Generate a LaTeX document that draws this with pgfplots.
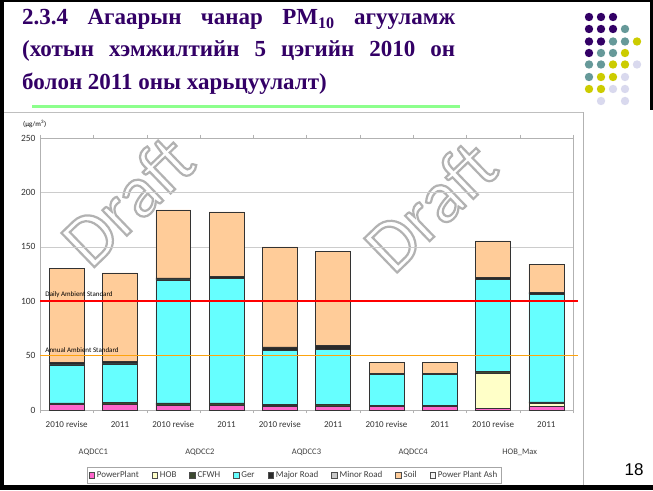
\documentclass[border=0pt]{standalone}
\usepackage{fontspec}
\setmainfont{Carlito}
\newfontfamily\titlefont{Liberation Serif}
\newfontfamily\arialfont{Liberation Sans}
\usepackage{pgfplots}
\usepackage{pgfplotstable}
\pgfplotsset{compat=1.18}
\definecolor{titlepurple}{HTML}{330066}
\definecolor{dotpurple}{HTML}{330066}
\definecolor{dotteal}{HTML}{669999}
\definecolor{dotyellow}{HTML}{CCCC00}
\definecolor{dotlav}{HTML}{D9D9EE}
\definecolor{cPP}{HTML}{FF66CC}
\definecolor{cHOB}{HTML}{FFFFC8}
\definecolor{cCFWH}{HTML}{3C4A30}
\definecolor{cGer}{HTML}{66FFFF}
\definecolor{cMajor}{HTML}{2A2A2A}
\definecolor{cMinor}{HTML}{C8C8C8}
\definecolor{cSoil}{HTML}{FFCC99}
\definecolor{cAsh}{HTML}{F2F2F2}
\definecolor{stdorange}{rgb}{1,0.64,0.05}
\newcommand{\outlinetext}[1]{\special{pdf:literal direct 1 Tr 2.2 w}#1\special{pdf:literal direct 0 Tr 1 w}}

\pgfplotstableread{
x  PP   HOB   CFWH  Ger    Major  Soil
0  5    0     1.5   35     2      86.5
1  5.5  0     1.5   35.5   2      81.5
2  4.5  0     2     113    2      62.5
3  4.5  0     2     114.5  2      59
4  3    1.5   1     49.5   3      92
5  3.5  0     1.5   51     3.5    86
6  3    0     1     28.5   1.5    9.5
7  3    0     1     28.5   1.5    9.5
8  1.5  32.5  1.5   84.5   2      33.5
9  3    3     1.5   99     1.5    26
}\pmdata

\pgfplotstableread{
x     daily
-0.5  100
9.6   100
}\stddata

\begin{document}
\begin{tikzpicture}[x=1pt,y=1pt]
\useasboundingbox (0,0) rectangle (653,490);
\fill[white] (0,0) rectangle (653,490);
% slide frame
\fill[black] (0,0) rectangle (4,490);
\fill[black] (0,487.5) rectangle (653,490);
\fill[black] (0,0) rectangle (653,5);
\fill[black] (650,380) rectangle (653,490);
\draw[gray!50] (4,378) -- (583,378);
\draw[gray!60] (583,5) -- (583,378);
% green underline
\draw[line width=3pt, green!45] (32,383) -- (460,383);
% title
\begin{scope}[every node/.style={anchor=base west, inner sep=0pt, text=titlepurple, font=\titlefont\bfseries\fontsize{23}{28}\selectfont}]
\node at (22,465) {\makebox[433pt][s]{2.3.4 Агаарын чанар PM\textsubscript{10} агууламж}};
\node at (22,433) {\makebox[433pt][s]{(хотын хэмжилтийн 5 цэгийн 2010 он}};
\node at (22,400) {болон 2011 оны харьцуулалт)};
\end{scope}
% decorative dots
\foreach \c/\x/\y in {dotpurple/589/17, dotpurple/601/17, dotpurple/613/17,
  dotpurple/589/29, dotpurple/601/29, dotpurple/613/29, dotteal/625/29,
  dotpurple/589/41.5, dotpurple/601/41.5, dotteal/613/41.5, dotteal/625/41.5, dotyellow/637/41.5,
  dotpurple/589/53, dotteal/601/53, dotteal/613/53, dotyellow/625/53,
  dotteal/589/64.5, dotteal/601/64.5, dotyellow/613/64.5, dotyellow/625/64.5, dotlav/637/64.5,
  dotteal/589/77, dotyellow/601/77, dotyellow/613/77, dotlav/625/77,
  dotyellow/589/89, dotyellow/601/89, dotlav/613/89, dotlav/625/89,
  dotlav/601/101, dotlav/625/101}
  {\fill[\c] (\x,490-\y) circle (4.2);}
% page number
\node[font=\arialfont\fontsize{17}{17}\selectfont] at (634,20) {18};

\begin{axis}[
  at={(40pt,80pt)}, anchor=south west,
  width=533pt, height=272pt, scale only axis,
  xmin=-0.5, xmax=9.5, ymin=0, ymax=250,
  axis lines=none, clip=false,
]
\node[rotate=44, anchor=base west, inner sep=0pt, text=black!30, font=\fontsize{74}{74}\selectfont] at (axis cs:0.45,128) {\outlinetext{Draft}};
\node[rotate=44, anchor=base west, inner sep=0pt, text=black!30, font=\fontsize{74}{74}\selectfont] at (axis cs:6.13,123) {\outlinetext{Draft}};
\end{axis}

\begin{axis}[
  at={(40pt,80pt)}, anchor=south west,
  width=533pt, height=272pt, scale only axis,
  ybar stacked, bar width=0.655,
  xmin=-0.5, xmax=9.5, ymin=0, ymax=250,
  ytick={0,50,...,250},
  xtick={0,...,9},
  xticklabels={2010 revise,2011,2010 revise,2011,2010 revise,2011,2010 revise,2011,2010 revise,2011},
  minor xtick={-0.5,0.5,...,9.5},
  major tick length=0pt, minor tick length=3pt,
  tick align=outside,
  tick style={gray!60},
  axis line style={gray!60},
  ymajorgrids, grid style={gray!40},
  /pgf/number format/assume math mode=true,
  tick label style={text=black!80},
  yticklabel style={font=\fontsize{9.5}{10}\selectfont, xshift=-1pt},
  xticklabel style={font=\fontsize{9}{10}\selectfont, yshift=-8pt},
  clip=false,
  legend style={at={(0.4765,-0.239)}, anchor=center, draw=gray!70,
    font=\fontsize{9}{9}\selectfont, text=black!75,
    /tikz/every even column/.append style={column sep=11pt},
    inner sep=2pt},
  legend columns=8,
  legend image code/.code={\draw[#1, draw=gray!60!black] (0cm,-0.1cm) rectangle (0.2cm,0.1cm);},
  every axis plot/.append style={draw=gray!40!black, line width=0.5pt},
]
\addplot[fill=cPP] table[x=x,y=PP]{\pmdata};
\addlegendentry{PowerPlant}
\addplot[fill=cHOB] table[x=x,y=HOB]{\pmdata};
\addlegendentry{HOB}
\addplot[fill=cCFWH] table[x=x,y=CFWH]{\pmdata};
\addlegendentry{CFWH}
\addplot[fill=cGer] table[x=x,y=Ger]{\pmdata};
\addlegendentry{Ger}
\addplot[fill=cMajor] table[x=x,y=Major]{\pmdata};
\addlegendentry{Major Road}
\addlegendimage{fill=cMinor}
\addlegendentry{Minor Road}
\addplot[fill=cSoil] table[x=x,y=Soil]{\pmdata};
\addlegendentry{Soil}
\addlegendimage{fill=cAsh}
\addlegendentry{Power Plant Ash}
\node[font=\fontsize{7}{7}\selectfont, anchor=south] at (rel axis cs:-0.01,1.025) {(μg/m\textsuperscript{3})};
\node[font=\fontsize{8.5}{9}\selectfont, text=black!75] at (axis cs:0.5,0) [yshift=-42pt] {AQDCC1};
\node[font=\fontsize{8.5}{9}\selectfont, text=black!75] at (axis cs:2.5,0) [yshift=-42pt] {AQDCC2};
\node[font=\fontsize{8.5}{9}\selectfont, text=black!75] at (axis cs:4.5,0) [yshift=-42pt] {AQDCC3};
\node[font=\fontsize{8.5}{9}\selectfont, text=black!75] at (axis cs:6.5,0) [yshift=-42pt] {AQDCC4};
\node[font=\fontsize{8.5}{9}\selectfont, text=black!75] at (axis cs:8.5,0) [yshift=-42pt] {HOB\_Max};
\end{axis}

\begin{axis}[
  at={(40pt,80pt)}, anchor=south west,
  width=533pt, height=272pt, scale only axis,
  xmin=-0.5, xmax=9.5, ymin=0, ymax=250,
  axis lines=none, clip=false,
]
\addplot[draw=red, line width=1.8pt, no markers] table[x=x, y=daily]{\stddata};
\addplot[fill=stdorange, draw=none, no markers] coordinates {(-0.5,49.2) (9.6,49.2) (9.6,50.8) (-0.5,50.8)} -- cycle;
\node[font=\fontsize{7}{7}\selectfont, anchor=south west, inner sep=1pt] at (axis cs:-0.42,102) {Daily Ambient Standard};
\node[font=\fontsize{7}{7}\selectfont, anchor=south west, inner sep=1pt] at (axis cs:-0.42,52) {Annual Ambient Standard};
\end{axis}
\end{tikzpicture}
\end{document}
